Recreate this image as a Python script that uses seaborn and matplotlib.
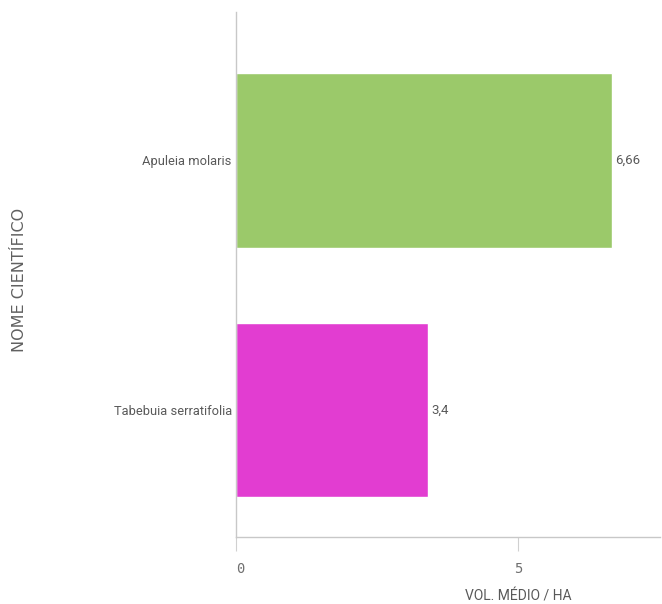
import seaborn as sns
import matplotlib.pyplot as plt
import pandas as pd

species = ['Apuleia molaris', 'Tabebuia serratifolia']
volumes = [6.66, 3.4]
value_labels = ['6,66', '3,4']
bar_colors = ['#9bc96a', '#e23dd1']

df = pd.DataFrame({'species': species, 'vol': volumes})

sns.set_style('white')
plt.rcParams['font.family'] = ['Roboto', 'DejaVu Sans']

fig = plt.figure(figsize=(6.62, 6.04), dpi=100)
ax = fig.add_axes([0.3565, 0.111, 0.6405, 0.869])

sns.barplot(data=df, x='vol', y='species', hue='species', palette=bar_colors,
            width=0.7, legend=False, saturation=1, ax=ax)

# value labels next to bars
for i, (v, lab) in enumerate(zip(volumes, value_labels)):
    ax.text(v + 0.07, i, lab, va='center', ha='left', fontsize=9.5, color='#595959')

ax.set_xlim(0, 7.52)
ax.set_ylim(1.508, -0.592)

ax.set_xticks([0, 5])
ax.set_xticklabels(['0', '5'], family='DejaVu Sans Mono', fontsize=10, color='#707070')
ax.get_xticklabels()[0].set_horizontalalignment('left')
ax.tick_params(axis='x', length=10, width=0.8, color='#d0d0d0', pad=8, bottom=True)
ax.tick_params(axis='y', length=0, pad=3, labelsize=9.3, labelcolor='#595959')

for s in ['top', 'right']:
    ax.spines[s].set_visible(False)
for s in ['left', 'bottom']:
    ax.spines[s].set_color('#c8c8c8')
    ax.spines[s].set_linewidth(1)

ax.set_xlabel('VOL. MÉDIO / HA', fontsize=10, color='#595959')
ax.xaxis.set_label_coords(5 / 7.52, -0.1)
ax.set_ylabel('NOME CIENTÍFICO', fontsize=11.5, color='#606060',
              family='DejaVu Sans', labelpad=0)
ax.yaxis.label.set_verticalalignment('center')
ax.yaxis.set_label_coords(-0.51, 0.49)

fig.savefig('out.png', dpi=100)
